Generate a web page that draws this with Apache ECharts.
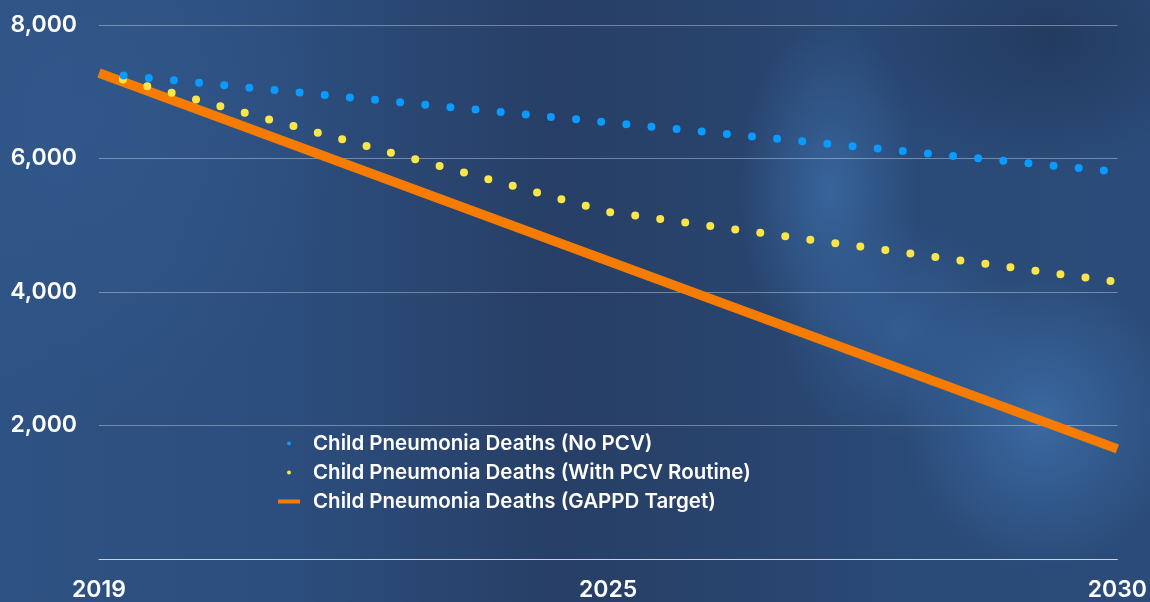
<!DOCTYPE html>
<html>
<head>
<meta charset="utf-8">
<script src="https://cdn.jsdelivr.net/npm/echarts@6/dist/echarts.min.js"></script>
<style>
html,body{margin:0;padding:0;}
#chart{width:1150px;height:602px;
background:
 radial-gradient(ellipse 90px 170px at 830px 190px, rgba(60,110,170,0.75), rgba(60,110,170,0) 100%),
 radial-gradient(ellipse 140px 150px at 1040px 420px, rgba(62,112,172,0.8), rgba(62,112,172,0) 100%),
 radial-gradient(ellipse 120px 110px at 900px 330px, rgba(58,105,165,0.6), rgba(58,105,165,0) 100%),
 radial-gradient(ellipse 260px 300px at 80px 120px, rgba(52,92,145,0.55), rgba(52,92,145,0) 100%),
 radial-gradient(ellipse 200px 130px at 1050px 40px, rgba(30,48,80,0.6), rgba(30,48,80,0) 100%),
 linear-gradient(90deg, #2e5283 0%, #2c4e7e 25%, #273f66 48%, #28436c 62%, #2a4a77 80%, #2b4c7a 100%);
}
</style>
</head>
<body>
<div id="chart"></div>
<script>
var categories = ['2019', '2025', '2030'];
var noPcv = [7280, 6540, 5800];
var withPcv = [7280, 5200, 4150];
var gappdTarget = [7280, 4465, 1650];
var yTicks = [0, 2000, 4000, 6000, 8000];
var seriesNames = ['Child Pneumonia Deaths (No PCV)', 'Child Pneumonia Deaths (With PCV Routine)', 'Child Pneumonia Deaths (GAPPD Target)'];

var chart = echarts.init(document.getElementById('chart'), null, {renderer: 'canvas'});
var fontFamily = 'Inter, Lato, sans-serif';
chart.setOption({
  backgroundColor: 'transparent',
  animation: false,
  grid: {left: 99, right: 28, top: 25, bottom: 42, containLabel: false},
  legend: {
    orient: 'vertical',
    left: 278,
    top: 433,
    padding: 0,
    itemWidth: 22,
    itemHeight: 4,
    itemGap: 8,
    data: [
      {name: seriesNames[0], icon: 'circle'},
      {name: seriesNames[1], icon: 'circle'},
      {name: seriesNames[2], icon: 'rect'}
    ],
    textStyle: {color: '#ffffff', fontFamily: fontFamily, fontWeight: 600, fontSize: 20.5, padding: [0, 0, 0, 8]}
  },
  xAxis: {
    type: 'category',
    boundaryGap: false,
    data: categories,
    axisLine: {show: true, lineStyle: {color: 'rgba(225,230,240,0.8)', width: 1}},
    axisTick: {show: false},
    axisLabel: {color: '#ffffff', fontFamily: fontFamily, fontWeight: 600, fontSize: 23, margin: 20, showMinLabel: true, showMaxLabel: true, interval: 0},
    splitLine: {show: false}
  },
  yAxis: {
    type: 'value',
    min: yTicks[0],
    max: yTicks[yTicks.length - 1],
    interval: 2000,
    axisLine: {show: false},
    axisTick: {show: false},
    axisLabel: {
      color: '#ffffff', fontFamily: fontFamily, fontWeight: 600, fontSize: 23, margin: 22,
      formatter: function (v) { return v === 0 ? '' : v.toLocaleString('en-US'); }
    },
    splitLine: {show: true, lineStyle: {color: 'rgba(255,255,255,0.35)', width: 1}}
  },
  series: [
    {
      name: seriesNames[2], type: 'line', data: gappdTarget, z: 2,
      showSymbol: false, symbol: 'none',
      itemStyle: {color: '#f57c00'},
      lineStyle: {color: '#f57c00', width: 9.5, cap: 'butt'}
    },
    {
      name: seriesNames[1], type: 'line', data: withPcv, z: 3,
      showSymbol: false, symbol: 'none',
      itemStyle: {color: '#fbe64a'},
      lineStyle: {color: '#fbe64a', width: 8, type: [0, 25.25], dashOffset: 0.45, cap: 'round'}
    },
    {
      name: seriesNames[0], type: 'line', data: noPcv, z: 4,
      showSymbol: false, symbol: 'none',
      itemStyle: {color: '#0a9bff'},
      lineStyle: {color: '#0a9bff', width: 8, type: [0, 25.25], dashOffset: 0.45, cap: 'round'}
    }
  ]
});
</script>
</body>
</html>
